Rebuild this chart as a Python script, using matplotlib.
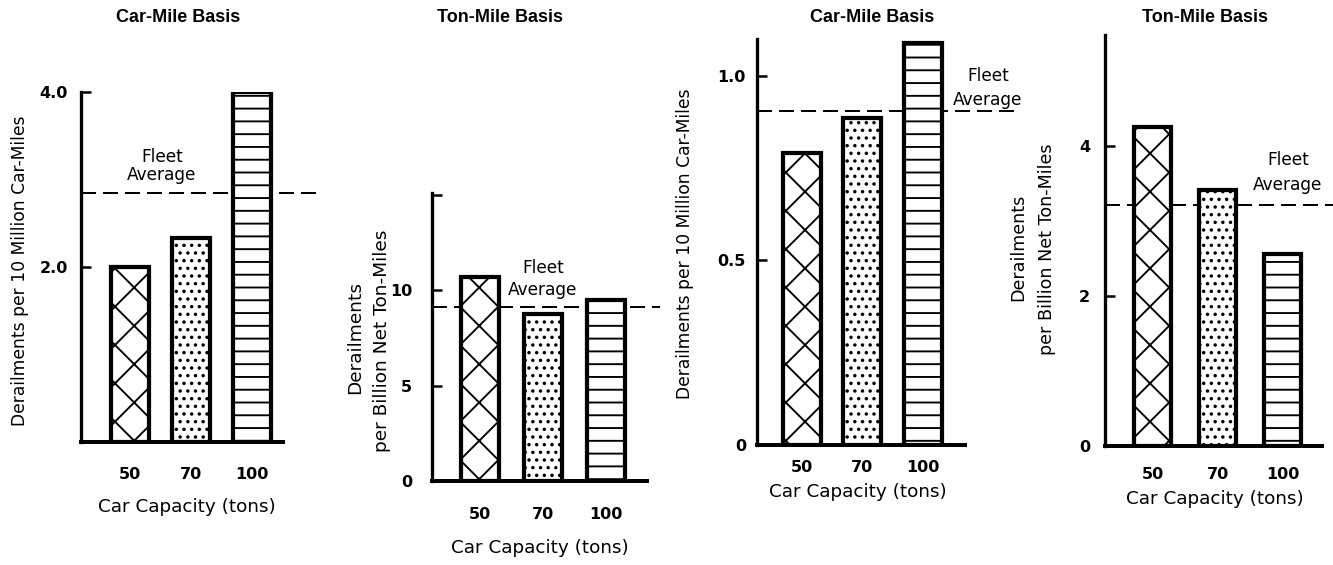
import matplotlib
matplotlib.use('Agg')
import matplotlib.pyplot as plt

DPI = 230
W, H = 1333, 565


def pt(px):
    return px * 72.0 / DPI


plt.rcParams['font.family'] = ['DejaVu Sans']
plt.rcParams['hatch.linewidth'] = pt(1.9)
plt.rcParams['hatch.color'] = 'black'
plt.rcParams['lines.scale_dashes'] = False

# ---------------- data ----------------
capacities = ['50', '70', '100']
titles = ['Car-Mile Basis', 'Ton-Mile Basis', 'Car-Mile Basis', 'Ton-Mile Basis']
car_mile_a = [2.0, 2.33, 4.0]
ton_mile_a = [10.7, 8.75, 9.5]
car_mile_b = [0.79, 0.886, 1.09]
ton_mile_b = [4.25, 3.41, 2.56]
fleet_avg = [2.85, 9.1, 0.905, 3.21]
yticks_1 = [2.0, 4.0]
ytick_labels_1 = ['2.0', '4.0']
yticks_2 = [0, 5, 10, 15]
ytick_labels_2 = ['0', '5', '10', '']
yticks_3 = [0, 0.5, 1.0]
ytick_labels_3 = ['0', '0.5', '1.0']
yticks_4 = [0, 2, 4]
ytick_labels_4 = ['0', '2', '4']
ymax_vals = [4.0, 15.1, 1.10, 5.48]
xlabel_text = 'Car Capacity (tons)'
ylabel_1 = 'Derailments per 10 Million Car-Miles'
ylabel_2 = ['Derailments', 'per Billion Net Ton-Miles']
ylabel_3 = 'Derailments per 10 Million Car-Miles'
ylabel_4 = ['Derailments', 'per Billion Net Ton-Miles']
fleet_label = ['Fleet', 'Average']
hatches = ['xx', '.....', '---']

series = [car_mile_a, ton_mile_a, car_mile_b, ton_mile_b]
yticks = [yticks_1, yticks_2, yticks_3, yticks_4]
ytick_labels = [ytick_labels_1, ytick_labels_2, ytick_labels_3, ytick_labels_4]

# ---------------- layout (pixels) ----------------
layout = [
    dict(axl=81, axr=283, y0=442, ytop=92, c0=130, sp=61.0, bw=38, dash_end=318,
         ypad=13, xpad=25, title=(178, 17), xlab=(187, 507), fleet=(162, 157, 175)),
    dict(axl=432, axr=647, y0=481, ytop=193, c0=479.5, sp=63.0, bw=38, dash_end=660,
         ypad=20, xpad=26, title=(500, 17), xlab=(540, 548), fleet=(543, 268, 290)),
    dict(axl=757, axr=965, y0=445, ytop=39, c0=801.5, sp=60.75, bw=38, dash_end=1015,
         ypad=11, xpad=15, title=(872, 17), xlab=(858, 492), fleet=(988, 76, 100)),
    dict(axl=1105, axr=1322, y0=446, ytop=35, c0=1152.5, sp=65.0, bw=37, dash_end=1333,
         ypad=15, xpad=21, title=(1205, 17), xlab=(1215, 499), fleet=(1288, 160, 185)),
]

fig = plt.figure(figsize=((W + 0.01) / DPI, (H + 0.01) / DPI), dpi=DPI)
fig.patch.set_facecolor('white')


def ftext(x, y, s, size_px, **kw):
    kw.setdefault('ha', 'center')
    kw.setdefault('va', 'center')
    return fig.text(x / W, 1 - y / H, s, fontsize=pt(size_px), **kw)


for i, L in enumerate(layout):
    ax = fig.add_axes([L['axl'] / W, 1 - L['y0'] / H,
                       (L['axr'] - L['axl']) / W, (L['y0'] - L['ytop']) / H])
    ax.set_facecolor('none')
    xs = list(range(len(capacities)))
    x_lo = (L['axl'] - L['c0']) / L['sp']
    x_hi = (L['axr'] - L['c0']) / L['sp']
    ax.set_xlim(x_lo, x_hi)
    ax.set_ylim(0, ymax_vals[i])

    bars = ax.bar(xs, series[i], width=L['bw'] / L['sp'], color='white',
                  edgecolor='black', linewidth=pt(4.2), zorder=3)
    for b, h in zip(bars, hatches):
        b.set_hatch(h)

    # fleet average dashed line
    dash_end = (L['dash_end'] - L['c0']) / L['sp']
    ax.plot([x_lo, dash_end], [fleet_avg[i], fleet_avg[i]], color='black',
            linewidth=pt(2.0), dashes=(pt(15), pt(7)), clip_on=False, zorder=2)

    for s in ['top', 'right']:
        ax.spines[s].set_visible(False)
    ax.spines['left'].set_linewidth(pt(3.3))
    ax.spines['bottom'].set_linewidth(pt(4.0))

    ax.set_yticks(yticks[i])
    ax.set_yticklabels(ytick_labels[i], fontsize=pt(16), fontweight='bold')
    ax.tick_params(axis='y', direction='in', length=pt(10), width=pt(2.5),
                   pad=pt(L['ypad']))
    ax.set_xticks(xs)
    ax.set_xticklabels(capacities, fontsize=pt(16), fontweight='bold')
    ax.tick_params(axis='x', length=0, pad=pt(L['xpad']))

    # titles and labels
    ftext(L['title'][0], L['title'][1], titles[i], 18,
          fontweight='bold', family='Liberation Sans')
    ftext(L['xlab'][0], L['xlab'][1], xlabel_text, 18.4)
    fx, fy1, fy2 = L['fleet']
    ftext(fx, fy1, fleet_label[0], 17)
    ftext(fx, fy2, fleet_label[1], 17)

# y-axis labels
ftext(20, 271, ylabel_1, 17.2, rotation=90)
ftext(355, 337, ylabel_2[0], 18.5, rotation=90)
ftext(382, 341, ylabel_2[1], 18.5, rotation=90)
ftext(685, 244, ylabel_3, 17.2, rotation=90)
ftext(1018, 247, ylabel_4[0], 17.5, rotation=90)
ftext(1047, 249, ylabel_4[1], 17.5, rotation=90)

fig.savefig('out.png', dpi=DPI, facecolor='white')
